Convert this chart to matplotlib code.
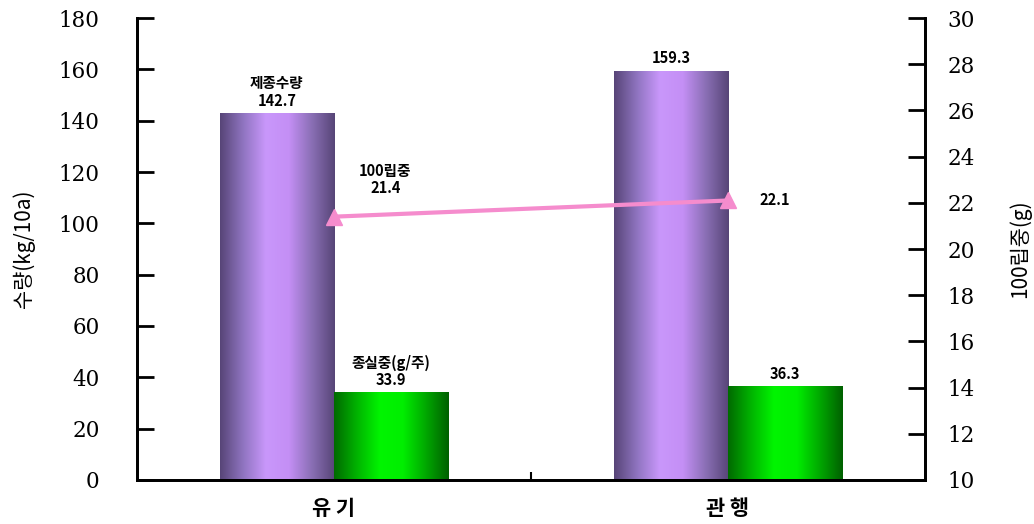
import numpy as np
import matplotlib
matplotlib.use('Agg')
import matplotlib.pyplot as plt
from matplotlib.colors import LinearSegmentedColormap

plt.rcParams['font.family'] = ['Noto Sans CJK KR', 'DejaVu Sans']

# 데이터
groups = ['유 기', '관 행']
yield_kg = [142.7, 159.3]        # 수량 (kg/10a)
seed_wt = [33.9, 36.3]           # 종실중 (g/주)
wt100 = [21.4, 22.1]             # 100립중 (g)

purple = LinearSegmentedColormap.from_list(
    'pur', ['#574577', '#8f74c0', '#c997fb', '#c48ff5', '#8a6fb5', '#574577'])
green = LinearSegmentedColormap.from_list(
    'grn', ['#006a00', '#00b400', '#00f500', '#00ee00', '#00a800', '#006000'])

fig = plt.figure(figsize=(10.34, 5.24), dpi=100)
ax = fig.add_axes([0.1325, 0.084, 0.762, 0.8816])
ax2 = ax.twinx()

x = np.arange(len(groups))
w = 0.29
grad = np.linspace(0, 1, 256).reshape(1, -1)

def grad_bar(a, xc, h, cmap):
    a.imshow(grad, cmap=cmap, aspect='auto', extent=[xc - w / 2, xc + w / 2, 0, h],
             zorder=2, interpolation='bilinear')

for i in range(len(groups)):
    grad_bar(ax, x[i] - w / 2, yield_kg[i], purple)
    grad_bar(ax, x[i] + w / 2, seed_wt[i], green)

ax.set_xlim(-0.5, 1.5)
ax.set_ylim(0, 180)
ax.set_yticks(np.arange(0, 181, 20))
ax2.set_ylim(10, 30)
ax2.set_yticks(np.arange(10, 31, 2))

# 100립중 선
ax2.plot(x, wt100, color='#f58ccd', lw=3, marker='^', ms=11, zorder=5)

num = ['DejaVu Serif']
ax.tick_params(axis='y', direction='in', length=12, width=2, labelsize=15.5, pad=27)
ax2.tick_params(axis='y', direction='in', length=12, width=2, labelsize=15.5, pad=16)
for lab in ax.get_yticklabels() + ax2.get_yticklabels():
    lab.set_family(num)

ax.set_xticks([0.5])
ax.set_xticklabels([''])
ax.tick_params(axis='x', direction='in', length=6, width=1.5)
for i, g in enumerate(groups):
    ax.text(x[i], -11, g, ha='center', va='center', fontsize=15, fontweight='bold')

for a in (ax, ax2):
    a.spines['top'].set_visible(False)
    for s in ('left', 'right', 'bottom'):
        a.spines[s].set_linewidth(2)

ax.set_ylabel('수량(kg/10a)', fontsize=15)
ax2.set_ylabel('100립중(g)', fontsize=15)
ax.yaxis.set_label_coords(-0.13, 0.5)
ax2.yaxis.set_label_coords(1.106, 0.5)

# 값 표시
kw = dict(ha='center', va='bottom', fontsize=10.5, fontweight='bold')
ax.text(x[0] - w / 2, yield_kg[0] + 2, '제종수량\n142.7', linespacing=1.1, **kw)
ax.text(x[1] - w / 2, yield_kg[1] + 2, '159.3', **kw)
ax.text(x[0] + w / 2, seed_wt[0] + 2, '종실중(g/주)\n33.9', linespacing=1.1, **kw)
ax.text(x[1] + w / 2, seed_wt[1] + 2, '36.3', **kw)
ax2.text(x[0] + 0.13, wt100[0] + 0.9, '100립중\n21.4', linespacing=1.1, **kw)
ax2.text(x[1] + 0.08, wt100[1], '22.1', ha='left', va='center', fontsize=10.5, fontweight='bold')

fig.savefig('out.png', dpi=100)
